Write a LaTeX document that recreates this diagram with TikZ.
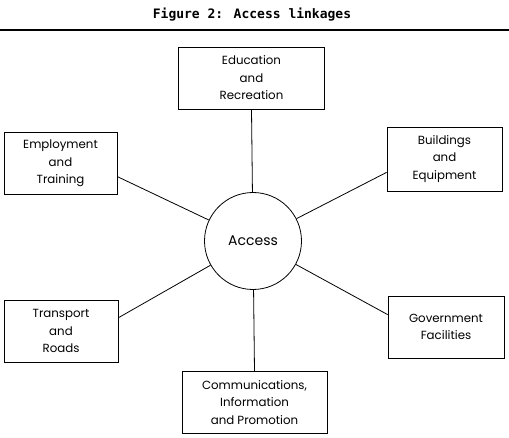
\documentclass[tikz,border=0pt]{standalone}
\usepackage{fontspec}
\setmainfont{Poppins}
\newfontfamily\titlefont{DejaVu Sans Mono}
\usetikzlibrary{positioning}

\begin{document}
\begin{tikzpicture}[
        x=1pt, y=-1pt,
        box/.style={draw, line width=0.8pt, align=center, minimum height=62pt, inner sep=2pt, font=\fontsize{11.8}{17.5}\selectfont},
        hub/.style={draw, circle, line width=0.8pt, minimum size=97pt, font=\fontsize{14}{16}\selectfont},
        link/.style={line width=0.8pt}
    ]
        \useasboundingbox (0,0) rectangle (509,438);

        \node[font=\titlefont\bfseries\fontsize{13}{15}\selectfont] (title) at (252,15) {Figure 2: Access linkages};
        \draw[line width=2pt] (0,30) -- (509,30);

        \node[hub] (access) at (253,241) {Access};

        \node[box, minimum width=146pt] (edu) at (251.5,78) {Education\\and\\Recreation};
        \node[box, minimum width=113pt] (emp) at (60.5,163.5) {Employment\\and\\Training};
        \node[box, minimum width=115pt, minimum height=64pt] (bld) at (444.5,159) {Buildings\\and\\Equipment};
        \node[box, minimum width=114pt] (trn) at (61,331) {Transport\\and\\Roads};
        \node[box, minimum width=116pt] (gov) at (446,327) {Government\\Facilities};
        \node[box, minimum width=145pt] (com) at (254.5,402.5) {Communications,\\Information\\and Promotion};

        \foreach \b/\a in {edu/south, emp/-13, bld/193, trn/13, gov/168, com/north} {
            \draw[link] (access) -- (\b.\a);
        }
    \end{tikzpicture}
\end{document}
